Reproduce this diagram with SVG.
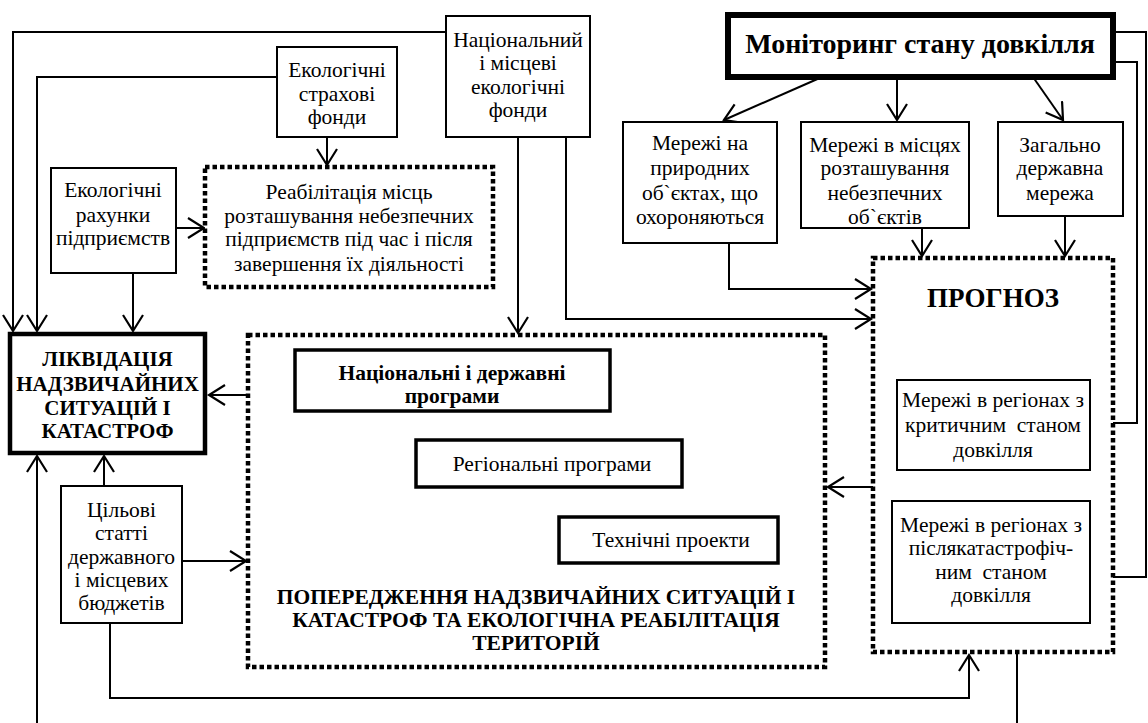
<svg xmlns="http://www.w3.org/2000/svg" width="1148" height="723" viewBox="0 0 1148 723">
<style>
.bg{fill:#fff}
.box{fill:#fff;stroke:#000;stroke-width:2}
.box3{fill:#fff;stroke:#000;stroke-width:3.5}
.thick{fill:#fff;stroke:#000;stroke-width:4.5}
.thick6{fill:#fff;stroke:#000;stroke-width:6}
.dot{fill:#fff;stroke:#000;stroke-width:4.5;stroke-dasharray:4.5 3}
.t{font-family:"Liberation Serif","Times New Roman",serif;font-size:21.5px;fill:#000;text-anchor:middle}
.b{font-family:"Liberation Serif","Times New Roman",serif;font-weight:bold;fill:#000;text-anchor:middle}
.c{fill:none;stroke:#000;stroke-width:2;marker-end:url(#ah)}
.l{fill:none;stroke:#000;stroke-width:2}
</style>
<defs>
<marker id="ah" markerUnits="userSpaceOnUse" markerWidth="22" markerHeight="24" refX="17" refY="11" orient="auto">
<path d="M1,1 L17,11 L1,21" fill="none" stroke="#000" stroke-width="2.2"/>
</marker>
</defs>
<rect class="bg" x="0" y="0" width="1148" height="723"/>

<g id="connectors">
<path class="c" d="M446,32 H13 V331"/>
<path class="c" d="M277,77 H37 V331"/>
<path class="c" d="M327,137 V165"/>
<path class="c" d="M176,228 H204"/>
<path class="c" d="M133,273 V331"/>
<path class="c" d="M518,137 V333"/>
<path class="c" d="M566,137 V319 H871"/>
<path class="c" d="M729,243 V289 H871"/>
<path class="c" d="M822,77 L724,120"/>
<path class="c" d="M897,77 V120"/>
<path class="c" d="M1033,77 L1063,120"/>
<path class="c" d="M922,228 V256"/>
<path class="c" d="M1065,216 V256"/>
<path class="c" d="M1113,32 H1146 V577 H1092"/>
<path class="c" d="M1113,62 H1137 V423 H1092"/>
<path class="c" d="M873,487 H828"/>
<path class="c" d="M248,395 H209"/>
<path class="c" d="M104,486 V456"/>
<path class="c" d="M37,723 V456"/>
<path class="c" d="M182,561 H246"/>
<path class="c" d="M110,623 V698 H969 V655"/>
<path class="l" d="M1017,652 V723"/>
</g>

<g id="n-nat-fund">
<rect class="box" x="446" y="16" width="144" height="121"/>
<text class="t" x="518" y="47">Національний</text>
<text class="t" x="518" y="70">і місцеві</text>
<text class="t" x="518" y="94">екологічні</text>
<text class="t" x="518" y="117">фонди</text>
</g>

<g id="n-insurance">
<rect class="box" x="277" y="47" width="120" height="90"/>
<text class="t" x="337" y="77">Екологічні</text>
<text class="t" x="337" y="101">страхові</text>
<text class="t" x="337" y="124">фонди</text>
</g>

<g id="n-rehab">
<rect class="dot" x="205" y="167" width="288" height="120"/>
<text class="t" x="349" y="199">Реабілітація місць</text>
<text class="t" x="349" y="223">розташування небезпечних</text>
<text class="t" x="349" y="246">підприємств під час і після</text>
<text class="t" x="349" y="271">завершення їх діяльності</text>
</g>

<g id="n-accounts">
<rect class="box" x="51" y="168" width="125" height="105"/>
<text class="t" x="113" y="197">Екологічні</text>
<text class="t" x="113" y="222">рахунки</text>
<text class="t" x="113" y="245">підприємств</text>
</g>

<g id="n-monitoring">
<rect class="thick6" x="728" y="15" width="385" height="62"/>
<text class="b" x="920" y="53" font-size="28">Моніторинг стану довкілля</text>
</g>

<g id="n-nature">
<rect class="box" x="623" y="122" width="154" height="121"/>
<text class="t" x="700" y="150">Мережі на</text>
<text class="t" x="700" y="175">природних</text>
<text class="t" x="700" y="200">об`єктах, що</text>
<text class="t" x="700" y="224">охороняються</text>
</g>

<g id="n-hazard">
<rect class="box" x="801" y="122" width="168" height="106"/>
<text class="t" x="885" y="152">Мережі в місцях</text>
<text class="t" x="885" y="175">розташування</text>
<text class="t" x="885" y="200">небезпечних</text>
<text class="t" x="885" y="224">об`єктів</text>
</g>

<g id="n-state">
<rect class="box" x="998" y="122" width="125" height="94"/>
<text class="t" x="1060" y="152">Загально</text>
<text class="t" x="1060" y="175">державна</text>
<text class="t" x="1060" y="200">мережа</text>
</g>

<g id="n-forecast">
<rect class="dot" x="873" y="258" width="240" height="394"/>
<text class="b" x="993" y="307" font-size="27">ПРОГНОЗ</text>
</g>

<g id="n-critical">
<rect class="box" x="897" y="380" width="193" height="90"/>
<text class="t" x="993" y="407">Мережі в регіонах з</text>
<text class="t" x="993" y="432" xml:space="preserve">критичним  станом</text>
<text class="t" x="993" y="457">довкілля</text>
</g>

<g id="n-postcat">
<rect class="box" x="892" y="501" width="198" height="122"/>
<text class="t" x="991" y="532">Мережі в регіонах з</text>
<text class="t" x="991" y="555">післякатастрофіч-</text>
<text class="t" x="991" y="579" xml:space="preserve">ним  станом</text>
<text class="t" x="991" y="602">довкілля</text>
</g>

<g id="n-liquidation">
<rect class="thick" x="10" y="334" width="195" height="119"/>
<text class="b" x="107.5" y="366" font-size="21">ЛІКВІДАЦІЯ</text>
<text class="b" x="107.5" y="391" font-size="21">НАДЗВИЧАЙНИХ</text>
<text class="b" x="107.5" y="415" font-size="21">СИТУАЦІЙ І</text>
<text class="b" x="107.5" y="438" font-size="21">КАТАСТРОФ</text>
</g>

<g id="n-prevention">
<rect class="dot" x="248" y="335" width="577" height="332"/>
<text class="b" x="536" y="604" font-size="21.5">ПОПЕРЕДЖЕННЯ НАДЗВИЧАЙНИХ СИТУАЦІЙ І</text>
<text class="b" x="536" y="627" font-size="21.5">КАТАСТРОФ ТА ЕКОЛОГІЧНА РЕАБІЛІТАЦІЯ</text>
<text class="b" x="536" y="650" font-size="21.5">ТЕРИТОРІЙ</text>
</g>

<g id="n-national-programs">
<rect class="box3" x="295" y="350" width="315" height="61"/>
<text class="b" x="452" y="380" font-size="21.5">Національні і державні</text>
<text class="b" x="452" y="403" font-size="21.5">програми</text>
</g>

<g id="n-regional">
<rect class="box3" x="416" y="440" width="266" height="47"/>
<text class="t" x="552" y="471">Регіональні програми</text>
</g>

<g id="n-technical">
<rect class="box3" x="559" y="517" width="219" height="46"/>
<text class="t" x="671" y="547">Технічні проекти</text>
</g>

<g id="n-budget">
<rect class="box" x="61" y="486" width="121" height="137"/>
<text class="t" x="121.5" y="517">Цільові</text>
<text class="t" x="121.5" y="540">статті</text>
<text class="t" x="121.5" y="564">державного</text>
<text class="t" x="121.5" y="587">і місцевих</text>
<text class="t" x="121.5" y="610">бюджетів</text>
</g>
</svg>
